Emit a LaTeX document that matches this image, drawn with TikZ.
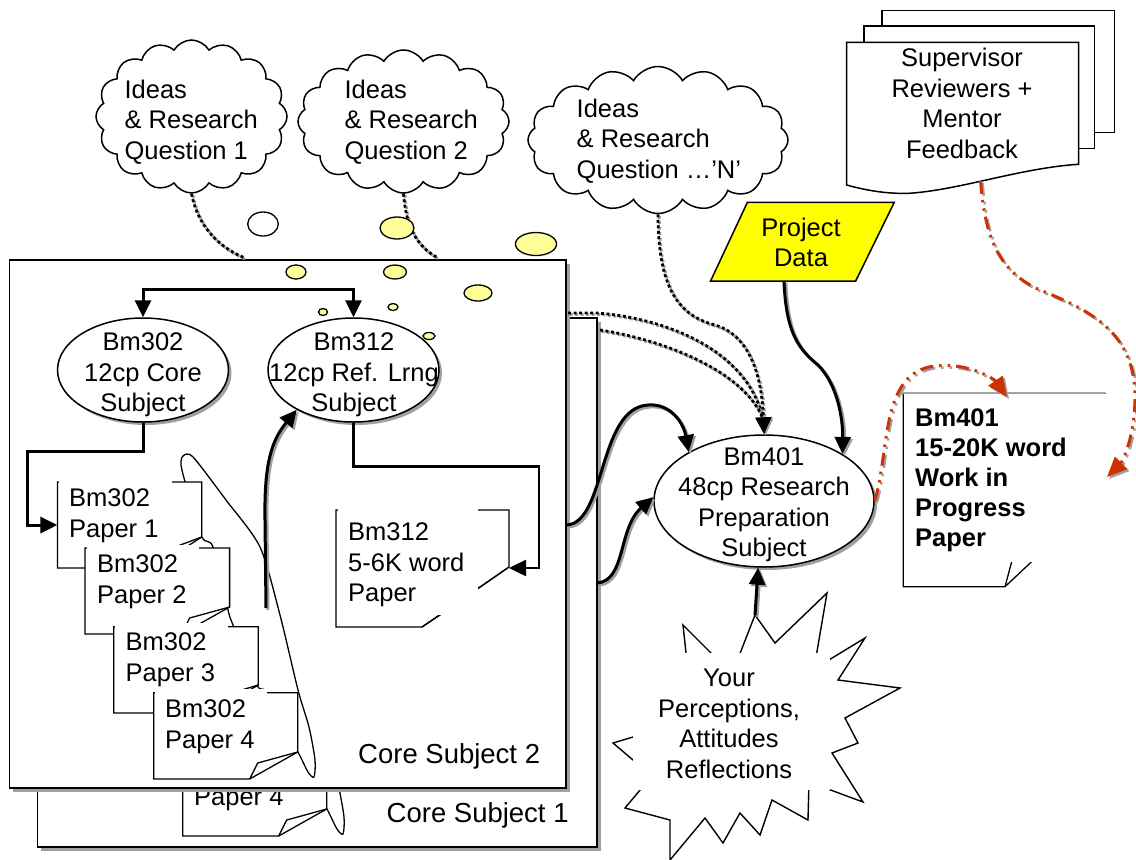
\documentclass[tikz,border=0pt]{standalone}
\usepackage{fontspec}
\setmainfont{Liberation Sans}
\usetikzlibrary{shapes.geometric,shapes.symbols,arrows.meta}
\definecolor{shadowgray}{RGB}{160,160,160}
\definecolor{bubbleyellow}{RGB}{255,255,153}
\definecolor{projyellow}{RGB}{255,255,0}
\definecolor{fbred}{RGB}{204,51,0}
% L T R B c w fx fy
\newcommand\mypaper[8]{%
  \draw[paperline,fill=white] (#1,#2) -- (#3,#2) -- (#3,{#4-#5}) -- ({#3-#6},#4) -- (#1,#4) -- cycle;
  \draw[paperline] ({#3-#6},#4) -- ({#3-#6+#7},{#4-#8}) -- (#3,{#4-#5});
}
\newcommand\lassopath{%
  \draw[lassoline] plot[smooth cycle, tension=0.45] coordinates {(183,456) (193,457) (226,500) (260,547) (280,615) (298,690) (309,727) (315,760) (314,777) (308,772) (298,752) (267,693) (257,685) (233,625) (228,610) (213,547) (202,537) (186,485) (181,465)};
}
\tikzset{
  txt/.style={font=\fontsize{25.5}{30.5}\selectfont, inner sep=0pt, align=left},
  ctxt/.style={font=\fontsize{25.5}{30.5}\selectfont, inner sep=0pt, align=center},
  boxframe/.style={draw=black, line width=1.5pt, fill=white},
  paperline/.style={draw=black, line width=1.3pt, line join=miter},
  lassoline/.style={draw=black, line width=1.3pt},
  subj/.style={ellipse, draw=black, line width=1.5pt, fill=white, inner sep=0pt},
  eshadow/.style={ellipse, fill=shadowgray, draw=none, inner sep=0pt},
  cloudshape/.style={cloud, cloud puffs=16, cloud puff arc=120, cloud ignores aspect, draw=black, line width=1.5pt, fill=white, inner sep=0pt},
  bubble/.style={draw=black, line width=1.3pt, fill=bubbleyellow},
  tip/.style={-{Triangle[length=17pt,width=16pt]}},
  conn/.style={line width=3pt, tip, preaction={draw=shadowgray, line width=3pt, transform canvas={xshift=2pt,yshift=-2pt}}},
  elbow/.style={line width=3pt},
  dotline/.style={line width=2.8pt, dash pattern=on 3pt off 2.5pt, preaction={draw=shadowgray, line width=2.8pt, dash pattern=on 3pt off 2.5pt, transform canvas={xshift=1.5pt,yshift=-1.5pt}}},
  redconn/.style={draw=fbred, line width=3pt, dash pattern=on 13pt off 6pt on 2.5pt off 6pt on 2.5pt off 6pt, -{Triangle[length=20pt,width=17pt]}, preaction={draw=shadowgray, line width=2.5pt, dash pattern=on 13pt off 6pt on 2.5pt off 6pt on 2.5pt off 6pt, transform canvas={xshift=2pt,yshift=-2pt}}},
}
\begin{document}
\begin{tikzpicture}[x=1pt,y=-1pt]
\useasboundingbox (0,0) rectangle (1136,860);

% ---------- back frame (Core Subject 1) ----------
\fill[shadowgray] (41,321.5) rectangle (600.5,850.5);
\draw[boxframe] (37.5,318) rectangle (597,847);
\begin{scope}[shift={(29,57)}]
  \lassopath
  \mypaper{153.8}{692.7}{297.7}{779}{27}{48}{8}{16}
  \fill[white] (155,689) rectangle (267,752);
  \node[txt, anchor=base west] (bp4) at (165,748) {Bm302\\Paper 4};
\end{scope}
\node[txt, font=\fontsize{27.5}{30}\selectfont, anchor=base west] (cs1) at (386.5,822) {Core Subject 1};

% ---------- front frame (Core Subject 2) ----------
\fill[shadowgray] (13,263.5) rectangle (569.5,791.5);
\draw[boxframe] (9.6,260) rectangle (566,788);
\node[txt, font=\fontsize{27.5}{30}\selectfont, anchor=base west] (cs2) at (358,763) {Core Subject 2};

% lasso and papers
\lassopath
\mypaper{57.4}{482}{201.7}{568}{31}{48}{8}{16}
\fill[white] (59,479) rectangle (171.5,536);
\node[txt, anchor=base west] (p1) at (69,537) {Bm302\\Paper 1};
\mypaper{85}{548}{229.6}{634}{27}{48}{8}{16}
\fill[white] (86.5,545) rectangle (199,606);
\node[txt, anchor=base west] (p2) at (97,603) {Bm302\\Paper 2};
\mypaper{113.7}{626.7}{258.3}{713}{28}{48}{8}{16}
\fill[white] (115.2,623) rectangle (228,684);
\node[txt, anchor=base west] (p3) at (125.5,681) {Bm302\\Paper 3};
\mypaper{153.8}{692.7}{297.7}{779}{27}{48}{8}{16}
\fill[white] (155.3,689) rectangle (267,752);
\node[txt, anchor=base west] (p4) at (165,748) {Bm302\\Paper 4};

% Bm312 paper
\mypaper{336}{510}{509}{627}{60}{87}{18}{12}
\fill[white] (337.5,507) rectangle (477.6,615);
\node[txt, anchor=base west] (p312) at (348,601.7) {Bm312\\5-6K word\\Paper};

% subject ellipses
\node[eshadow, minimum width=171pt, minimum height=104pt] at (146,373) {};
\node[subj, minimum width=171pt, minimum height=104pt] (bm302) at (143,370) {};
\node[ctxt, anchor=base] (bm302t) at (143,411.5) {Bm302\\12cp Core\\Subject};
\node[eshadow, minimum width=171pt, minimum height=104pt] at (356.5,373) {};
\node[subj, minimum width=171pt, minimum height=104pt] (bm312) at (353.5,370) {};
\node[ctxt, anchor=base] (bm312t) at (354,411.5) {Bm312\\12cp Ref. Lrng\\Subject};

% connectors inside frame
\coordinate (p1in) at (57.4,525);
\coordinate (p312in) at (509,568);
\coordinate (lassoout) at (266,608);
\draw[elbow, {Triangle[length=17pt,width=16pt]}-{Triangle[length=17pt,width=16pt]}] (bm302.north) -- ++(0,-28) -| (bm312.north);
\draw[elbow, tip] (bm302.south) -- (143,451.7) -- (27.5,451.7) -- (27.5,525) -- (p1in);
\draw[elbow, line width=2.5pt, tip] (bm312.south) -- (353.5,466.7) -- (539,466.7) -- (539,568) -- (p312in);
\draw[conn] (lassoout) -- (265,520) .. controls (264,462) and (272,440) .. (bm312.215);

% bubbles inside frame
\draw[bubble] (296,272) ellipse [x radius=10, y radius=7];
\draw[bubble] (395,272) ellipse [x radius=11.5, y radius=7];
\draw[bubble] (478,293) ellipse [x radius=14, y radius=8];
\draw[bubble] (323,312) ellipse [x radius=4.5, y radius=3.5];
\draw[bubble] (393,307) ellipse [x radius=5, y radius=3.5];
\draw[bubble] (429,336) ellipse [x radius=6, y radius=3.5];

% ---------- clouds ----------
\node[cloudshape, minimum width=191pt, minimum height=153pt] (c1) at (191.5,116.5) {};
\node[txt, anchor=base west] (c1t) at (124.4,159) {Ideas\\\& Research\\Question 1};
\node[cloudshape, minimum width=211pt, minimum height=143pt] (c2) at (403.5,121.5) {};
\node[txt, anchor=base west] (c2t) at (344.4,159) {Ideas\\\& Research\\Question 2};
\node[cloudshape, minimum width=260pt, minimum height=147pt] (c3) at (658,140) {};
\node[txt, anchor=base west] (c3t) at (576.5,178.3) {Ideas\\\& Research\\Question …’N’};

\coordinate (f1) at (245,258);
\coordinate (f2) at (438,258);
\draw[dotline] (c1.south) .. controls (197,222) and (215,246) .. (f1);
\draw[dotline] (c2.south) .. controls (406,226) and (416,246) .. (f2);

% bubbles outside
\draw[draw=black, line width=1.3pt, fill=white] (263,224) ellipse [x radius=15.3, y radius=12];
\draw[bubble] (397,228) ellipse [x radius=17, y radius=11];
\draw[bubble] (536,244) ellipse [x radius=20.5, y radius=11.5];

% ---------- Bm401 ----------
\node[eshadow, minimum width=220pt, minimum height=132pt] at (767,504) {};
\node[subj, minimum width=220pt, minimum height=132pt] (bm401) at (764,501) {};
\node[ctxt, anchor=base] (bm401t) at (764,556.5) {Bm401\\48cp Research\\Preparation\\Subject};

% dotted lines into Bm401
\coordinate (fa) at (568,313);
\coordinate (fb) at (600,330);
\coordinate (dend) at (763,419);
\draw[dotline] (fa) -- (597,313) .. controls (665,318) and (748,350) .. (dend);
\draw[dotline] (fb) .. controls (665,340) and (745,372) .. (dend);
\draw[dotline, tip] (c3.south) .. controls (658,290) and (680,316) .. (715,325) .. controls (752,336) and (762,380) .. (bm401.north);

% solid arrows into Bm401
\coordinate (bf1) at (567,525);
\coordinate (bf2) at (597,583);
\draw[conn] (bf1) .. controls (606,522) and (598,408) .. (648,405) .. controls (672,403) and (684,425) .. (bm401.147);
\draw[conn] (bf2) .. controls (626,581) and (618,528) .. (bm401.178);

% Project Data
\draw[line width=1.5pt, fill=projyellow] (747.4,202.3) -- (894.3,202.3) -- (855.7,281) -- (710.6,281) -- cycle;
\node[ctxt, anchor=base] (pdt) at (801,266.7) {Project\\Data};
\coordinate (pdb) at (784,281);
\draw[conn] (pdb) .. controls (786,335) and (800,350) .. (818,365) .. controls (838,385) and (843,420) .. (bm401.31);

% Star
\draw[line width=1.4pt, line join=miter, fill=white] (755,615) -- (775,643) -- (827,593) -- (814,669) -- (865,638) -- (838,680) -- (900,688) -- (845,718) -- (858,743) -- (832,753) -- (863,802) -- (809,782) -- (808,820) -- (772,800) -- (760,835) -- (740,813) -- (723,843) -- (705,818) -- (670,860) -- (670,820) -- (625,808) -- (651,777) -- (633,760) -- (613,743) -- (633,737) -- (690,690) -- (683,625) -- (732,674) -- cycle;
\fill[white] (633,653) rectangle (830,790);
\node[ctxt, anchor=base] (start) at (729,778) {Your\\Perceptions,\\Attitudes\\Reflections};
\coordinate (sapex) at (755,615);
\draw[conn] (sapex) -- (bm401.265);

% Supervisor documents
\draw[line width=1.5pt, fill=white] (882.2,10.7) rectangle (1114.7,132.3);
\draw[line width=1.5pt, fill=white] (864.2,26) rectangle (1094.5,148.3);
\draw[line width=1.5pt, fill=white] (846.6,42.3) -- (1078.7,42.3) -- (1078.7,164.3) .. controls (1020,168) and (960,190) .. (909,193.3) .. controls (885,194) and (865,190) .. (846.6,185) -- cycle;
\node[ctxt, anchor=base] (supt) at (962,158.3) {Supervisor\\Reviewers +\\Mentor\\Feedback};
\coordinate (supb) at (980.6,181);

% Bm401 paper
\mypaper{903.3}{393.3}{1105}{586.7}{94}{100}{6.7}{25}
\fill[white] (904.8,394.2) rectangle (1108,562);
\draw[shadowgray, line width=0.8pt] (903.3,393.3) -- (1105,393.3);
\node[txt, font=\fontsize{25.5}{30}\selectfont\bfseries, anchor=base west] (p401) at (915,546.7) {Bm401\\15-20K word\\Work in\\Progress\\Paper};
\coordinate (p401top) at (1007,397);
\coordinate (p401side) at (1107,477);

% red feedback arrows
\draw[redconn] (supb) .. controls (985,240) and (1000,272) .. (1040,290) .. controls (1095,312) and (1136,335) .. (1135,400) .. controls (1134,440) and (1122,462) .. (p401side);
\draw[redconn] (bm401.east) .. controls (890,450) and (880,372) .. (935,366) .. controls (970,362) and (995,380) .. (p401top);

\end{tikzpicture}
\end{document}
